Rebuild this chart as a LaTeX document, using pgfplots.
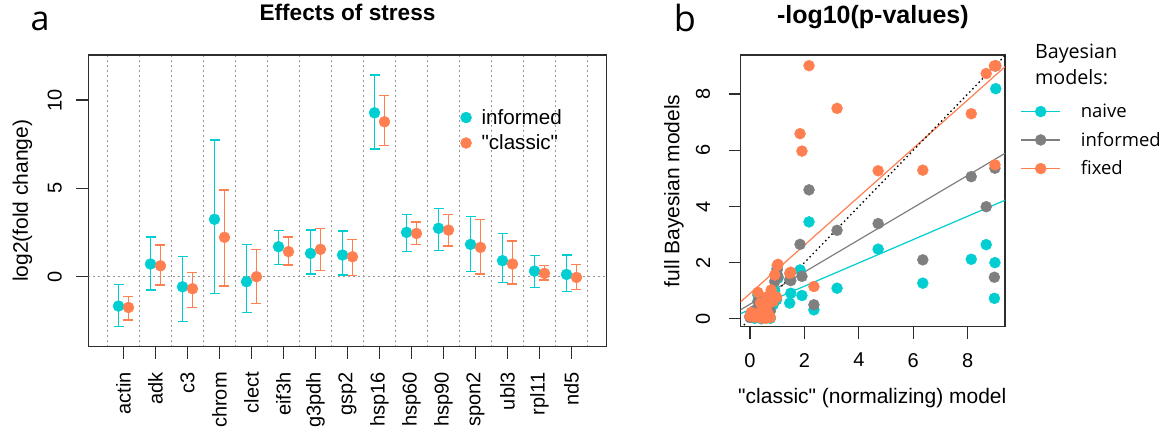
\documentclass[border=0pt]{standalone}
\usepackage{fontspec}
\setmainfont{Liberation Sans}
\newfontfamily\osans{Open Sans}
\usepackage{pgfplots}
\usepackage{pgfplotstable}
\pgfplotsset{compat=1.18}
\definecolor{cyanR}{RGB}{0,206,209}
\definecolor{coralR}{RGB}{255,127,80}
\definecolor{grayR}{RGB}{127,127,127}
\definecolor{boxc}{RGB}{45,45,45}
\definecolor{dotc}{RGB}{150,150,150}
\newcommand\dq{\XeTeXglyph\the\XeTeXcharglyph"22\relax}

\pgfplotstableread{
i y lo hi
0 -1.66 -2.83 -0.43
1 0.72 -0.75 2.26
2 -0.57 -2.55 1.13
3 3.25 -0.94 7.74
4 -0.28 -2.04 1.83
5 1.70 0.70 2.60
6 1.32 0.15 2.64
7 1.23 0.09 2.58
8 9.28 7.23 11.42
9 2.51 1.42 3.53
10 2.74 1.47 3.87
11 1.83 0.28 3.40
12 0.91 -0.34 2.45
13 0.32 -0.60 1.19
14 0.13 -0.85 1.23
}\informedtab

\pgfplotstableread{
i y lo hi
0 -1.74 -2.45 -1.11
1 0.62 -0.47 1.79
2 -0.68 -1.75 0.25
3 2.23 -0.53 4.91
4 0.00 -1.51 1.55
5 1.42 0.66 2.26
6 1.55 0.34 2.72
7 1.13 0.06 2.11
8 8.77 7.42 10.25
9 2.45 1.83 3.09
10 2.64 1.75 3.53
11 1.66 0.15 3.25
12 0.72 -0.42 2.02
13 0.19 -0.19 0.62
14 -0.04 -0.72 0.70
}\classictab

\pgfplotstableread{
x naive informed fixed
2.17 3.45 4.59 9.01
3.20 1.09 3.15 7.49
4.71 2.48 3.39 5.27
6.35 1.27 2.10 5.29
8.13 2.12 5.06 7.30
8.68 2.64 3.99 8.73
9.03 8.19 9.00 9.01
9.00 2.00 5.36 5.48
8.98 0.73 1.48 9.00
1.84 1.74 2.65 6.59
1.91 0.83 1.51 5.97
2.35 0.32 0.50 1.15
1.50 0.91 1.36 1.66
1.46 0.56 1.39 1.62
1.03 1.45 1.50 1.94
1.00 1.80 1.75 1.90
0.91 1.00 1.33 1.56
0.78 0.73 0.90 1.03
0.29 0.85 0.62 0.94
0.64 0.50 0.60 0.79
0.39 0.30 0.45 0.56
0.60 0.20 0.30 0.41
0.05 0.10 0.15 0.23
0.17 0.02 0.30 0.06
0.42 0.00 0.10 0.02
0.60 0.10 0.15 0.02
0.32 0.15 0.20 0.20
0.66 0.10 0.25 0.20
0.51 0.20 0.30 0.32
0.85 0.50 0.70 0.62
0.00 0.10 0.05 0.10
0.75 0.02 0.28 0.05
0.98 0.68 1.62 0.77
}\pvals

\begin{document}
\begin{tikzpicture}[x=1pt,y=1pt]
\useasboundingbox (0,0) rectangle (1163,434);

\begin{axis}[
  at={(88.3pt,87.3pt)}, anchor=south west,
  scale only axis, width=518.4pt, height=291.7pt,
  xmin=-1.1, xmax=15.1, ymin=-3.96, ymax=12.55,
  axis line style={draw=boxc, line width=1.2pt},
  xtick={0,...,14},
  xticklabels={actin,adk,c3,chrom,clect,eif3h,g3pdh,gsp2,hsp16,hsp60,hsp90,spon2,ubl3,rpl11,nd5},
  ytick={0,5,10},
  xtick pos=left, ytick pos=left,
  tick align=outside,
  major tick length=12pt,
  every tick/.style={draw=boxc, line width=1.2pt},
  minor xtick={-0.5,0.5,...,14.5},
  minor tick length=0pt,
  xminorgrids,
  minor grid style={color=dotc, line width=0.9pt, dash pattern=on 1.5pt off 3.5pt},
  ticklabel style={font=\fontsize{20}{24}\selectfont},
  xticklabel style={yshift=-10pt, rotate=90, anchor=east},
  yticklabel style={xshift=-11pt, rotate=90, anchor=south},
  /pgf/number format/assume math mode=true,
  ylabel={log2(fold change)},
  ylabel style={at={(axis description cs:-0.127,0.5)}, anchor=center, font=\fontsize{21}{25}\selectfont},
  title={Effects of stress},
  title style={at={(axis description cs:0.5,1.097)}, anchor=base, font=\fontsize{22.6}{26}\selectfont\bfseries},
  legend style={at={(axis description cs:0.712,0.828)}, anchor=north west, draw=none, fill=none,
    font=\fontsize{20.6}{24}\selectfont, row sep=5pt,
    /tikz/every odd column/.append style={column sep=8pt}},
  legend cell align=left,
  legend image code/.code={\draw[#1] plot coordinates {(0pt,0pt)};},
]
\addplot[color=dotc, line width=0.9pt, dash pattern=on 1.5pt off 3.5pt, forget plot] coordinates {(-1.1,0) (15.1,0)};
\addplot[only marks, mark=*, mark size=5.5pt, color=cyanR,
  error bars/.cd, y dir=both, y explicit,
  error bar style={line width=1.4pt},
  error mark options={rotate=90, line width=1.4pt, mark size=5pt}]
  table[x expr=\thisrow{i}-0.156, y=y, y error plus expr=\thisrow{hi}-\thisrow{y}, y error minus expr=\thisrow{y}-\thisrow{lo}] {\informedtab};
\addlegendentry{informed}
\addplot[only marks, mark=*, mark size=5.5pt, color=coralR,
  error bars/.cd, y dir=both, y explicit,
  error bar style={line width=1.4pt},
  error mark options={rotate=90, line width=1.4pt, mark size=5pt}]
  table[x expr=\thisrow{i}+0.156, y=y, y error plus expr=\thisrow{hi}-\thisrow{y}, y error minus expr=\thisrow{y}-\thisrow{lo}] {\classictab};
\addlegendentry{\dq classic\dq}
\end{axis}

\begin{axis}[
  at={(740.7pt,107.3pt)}, anchor=south west,
  scale only axis, width=264.3pt, height=271.7pt,
  xmin=-0.34, xmax=9.37, ymin=-0.28, ymax=9.39,
  axis line style={draw=boxc, line width=1.2pt},
  xtick={0,2,...,8}, ytick={0,2,...,8},
  xtick pos=left, ytick pos=left,
  tick align=outside,
  major tick length=12pt,
  every tick/.style={draw=boxc, line width=1.2pt},
  ticklabel style={font=\fontsize{20}{24}\selectfont},
  xticklabel style={yshift=-11pt},
  yticklabel style={xshift=-15pt, rotate=90, anchor=south},
  /pgf/number format/assume math mode=true,
  xlabel={\dq classic\dq{} (normalizing) model},
  xlabel style={at={(axis description cs:0.498,-0.261)}, anchor=center, font=\fontsize{21}{25}\selectfont},
  ylabel={full Bayesian models},
  ylabel style={at={(axis description cs:-0.253,0.5)}, anchor=center, font=\fontsize{21}{25}\selectfont},
  title={-log10(p-values)},
  title style={at={(axis description cs:0.5,1.0956)}, anchor=base, font=\fontsize{25}{29}\selectfont\bfseries},
  legend style={at={(axis description cs:1.047,0.835)}, anchor=north west, draw=none, fill=none,
    font=\osans\fontsize{18.5}{22}\selectfont, row sep=9pt,
    /tikz/every odd column/.append style={column sep=18pt}},
  legend cell align=left,
  legend image code/.code={\draw[#1,solid,line width=1.2pt] (0pt,0pt) -- (39pt,0pt); \draw[#1] plot coordinates {(19.5pt,0pt)};},
]
\addplot[only marks, mark=*, mark size=5.5pt, color=cyanR] table[x=x,y=naive]{\pvals};
\addlegendentry{naive}
\addplot[only marks, mark=*, mark size=5.5pt, color=grayR] table[x=x,y=informed]{\pvals};
\addlegendentry{informed}
\addplot[only marks, mark=*, mark size=5.5pt, color=coralR] table[x=x,y=fixed]{\pvals};
\addlegendentry{fixed}
\addplot[cyanR, line width=1.2pt, forget plot] coordinates {(-0.34,0.189) (9.37,4.22)};
\addplot[grayR, line width=1.2pt, forget plot] coordinates {(-0.34,0.325) (9.37,5.89)};
\addplot[coralR, line width=1.2pt, forget plot] coordinates {(-0.34,0.607) (9.37,8.97)};
\addplot[black, line width=1.3pt, dash pattern=on 1.5pt off 3pt, forget plot] coordinates {(-0.34,-0.34) (9.37,9.37)};
\end{axis}

\node[font=\osans\fontsize{19.7}{23}\selectfont, anchor=base west] at (1031.5,375.7) {Bayesian};
\node[font=\osans\fontsize{19.7}{23}\selectfont, anchor=base west] at (1031.5,349) {models:};
\node[font=\osans\fontsize{34}{38}\selectfont, anchor=base] at (40,403) {a};
\node[font=\osans\fontsize{36}{40}\selectfont, anchor=base] at (685,402) {b};
\end{tikzpicture}
\end{document}
